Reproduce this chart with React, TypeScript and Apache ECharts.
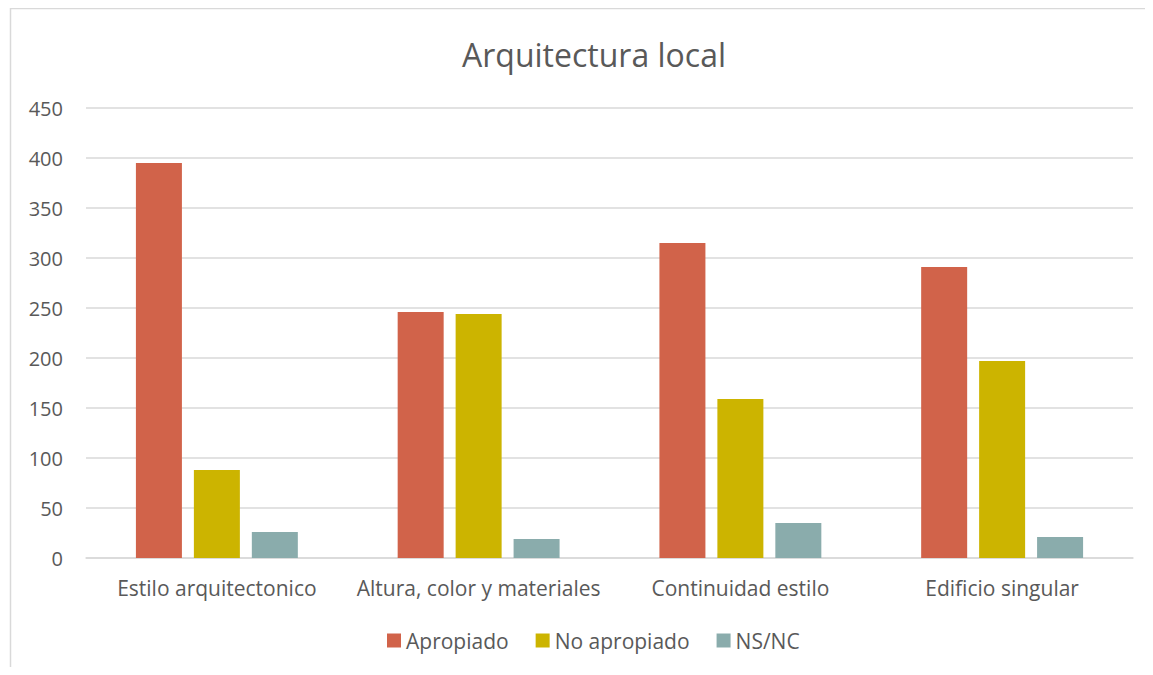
import React, { useEffect, useRef } from "react";
import * as echarts from "echarts";

const categories = ["Estilo arquitectonico", "Altura, color y materiales", "Continuidad estilo", "Edificio singular"];
const apropiado = [395, 246, 315, 291];
const noApropiado = [88, 244, 159, 197];
const nsnc = [26, 19, 35, 21];
const yTicks = { min: 0, max: 450, interval: 50 };

const FONT = "'Open Sans', sans-serif";
const TXT = "#595959";

export default function App() {
  const ref = useRef<HTMLDivElement>(null);
  useEffect(() => {
    const chart = echarts.init(ref.current!, null, { renderer: "svg" });
    chart.setOption({
      animation: false,
      textStyle: { fontFamily: FONT },
      graphic: [
        {
          type: "rect",
          shape: { x: 2.5, y: 0.5, width: 1160, height: 700 },
          style: { fill: "none", stroke: "#d9d9d9", lineWidth: 1.5 },
          silent: true,
        },
      ],
      title: {
        text: "Arquitectura local",
        left: 449,
        top: 25,
        textStyle: { fontFamily: FONT, fontSize: 32, fontWeight: "normal", color: TXT },
      },
      legend: {
        bottom: 11,
        left: 374,
        itemWidth: 14,
        itemHeight: 14,
        itemGap: 27,
        icon: "rect",
        textStyle: { fontFamily: FONT, fontSize: 21, color: TXT },
        data: ["Apropiado", "No apropiado", "NS/NC"],
      },
      grid: { left: 78, right: 12, top: 100, bottom: 109, containLabel: false },
      xAxis: {
        type: "category",
        data: categories,
        axisTick: { show: false },
        axisLine: { lineStyle: { color: "#d9d9d9", width: 1.5 } },
        axisLabel: { fontFamily: FONT, fontSize: 21, color: TXT, margin: 19, interval: 0 },
      },
      yAxis: {
        type: "value",
        min: yTicks.min,
        max: yTicks.max,
        interval: yTicks.interval,
        axisLine: { show: false },
        axisTick: { show: false },
        splitLine: { lineStyle: { color: "#d9d9d9", width: 1.5 } },
        axisLabel: { fontFamily: FONT, fontSize: 20, color: TXT, margin: 23 },
      },
      series: [
        { name: "Apropiado", type: "bar", data: apropiado, barWidth: 46, barGap: "26%", itemStyle: { color: "#d1634a" } },
        { name: "No apropiado", type: "bar", data: noApropiado, barWidth: 46, barGap: "26%", itemStyle: { color: "#ccb400" } },
        { name: "NS/NC", type: "bar", data: nsnc, barWidth: 46, barGap: "26%", itemStyle: { color: "#8aacac" } },
      ],
    });
    return () => chart.dispose();
  }, []);
  return <div ref={ref} style={{ width: 1137, height: 659 }} />;
}
